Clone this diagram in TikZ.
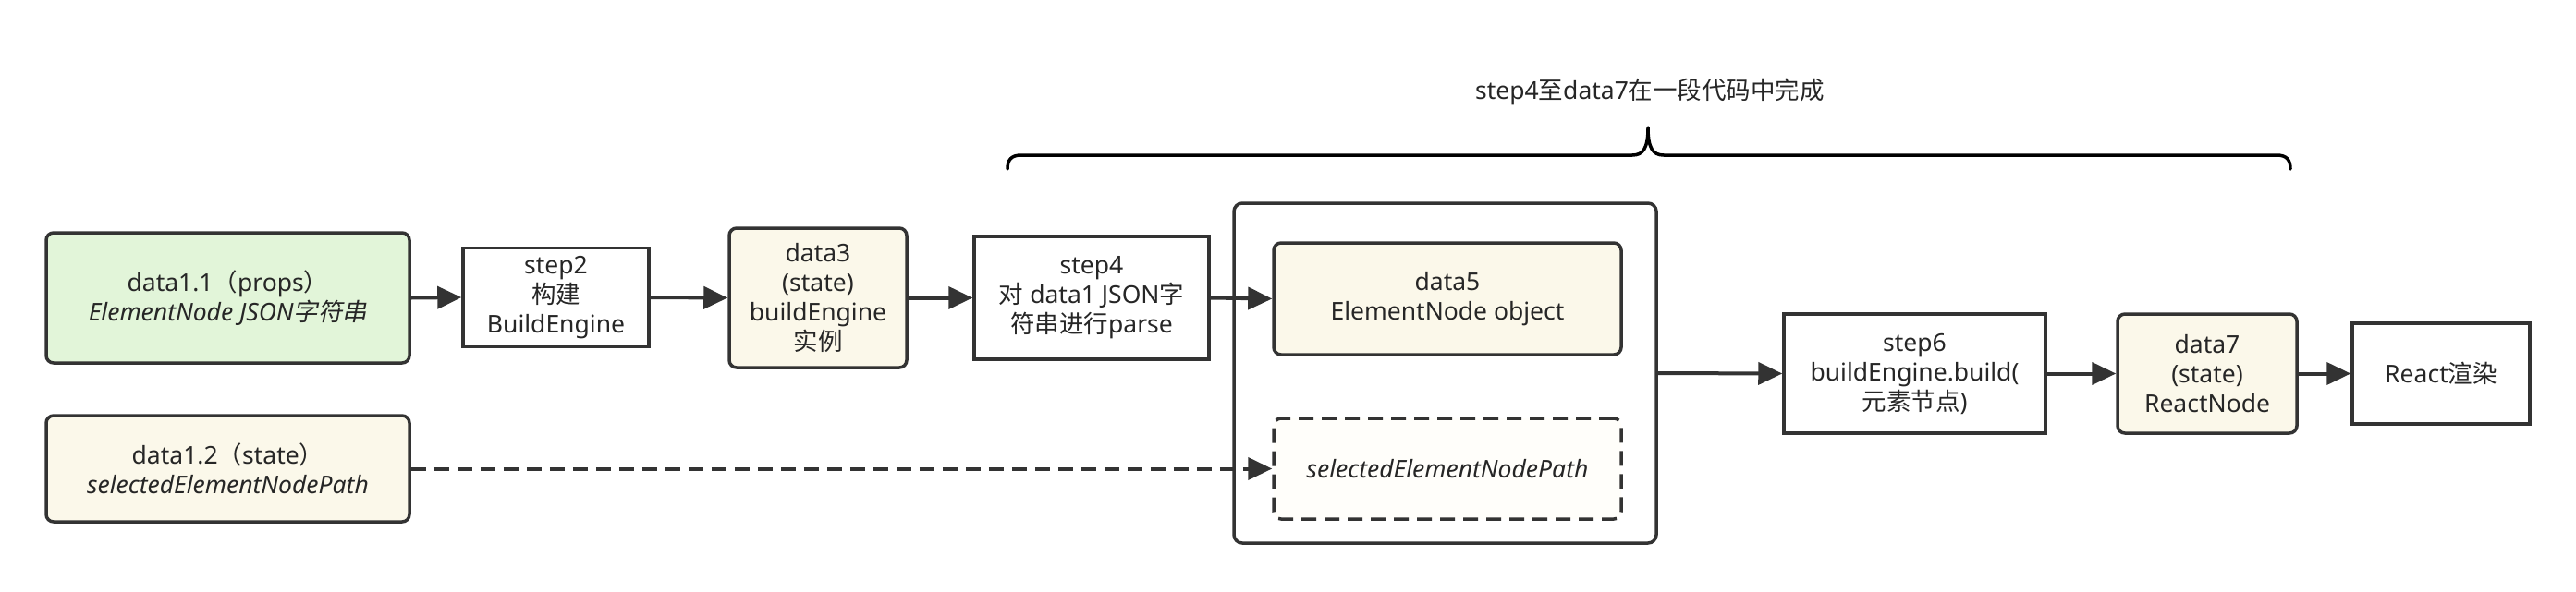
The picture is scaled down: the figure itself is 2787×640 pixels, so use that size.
\documentclass[tikz,border=0pt]{standalone}
\usepackage{fontspec}
\setmainfont{Noto Sans}
\newfontfamily\cjk{Noto Sans CJK SC}[AutoFakeSlant=0.2]
\newcommand{\zh}[1]{{\cjk #1}}
\usetikzlibrary{arrows.meta}
\definecolor{dark}{RGB}{51,51,51}
\definecolor{greenfill}{RGB}{226,245,217}
\definecolor{creamfill}{RGB}{251,248,234}
\definecolor{palefill}{RGB}{255,254,250}
\tikzset{
  base/.style={draw=dark, line width=3.5pt, inner sep=0pt, align=center, text=black!85,
    font=\fontsize{26.5}{32}\selectfont},
  databox/.style={base, rounded corners=8pt, fill=creamfill},
  greenbox/.style={base, rounded corners=8pt, fill=greenfill},
  stepbox/.style={base, fill=white},
  groupbox/.style={base, rounded corners=9pt, fill=white},
  dashbox/.style={base, rounded corners=8pt, fill=palefill, dash pattern=on 16pt off 9pt},
  conn/.style={draw=dark, line width=4pt, -{Triangle[length=26pt,width=24pt]}},
  dconn/.style={conn, dash pattern=on 16pt off 9pt},
  bracestyle/.style={draw=black, line width=3.5pt, line cap=round, line join=round},
}
\begin{document}
\begin{tikzpicture}[x=1pt, y=-1pt]
\useasboundingbox (0,0) rectangle (2787,640);
% container
\node[groupbox, minimum width=457pt, minimum height=368pt] (cont) at (1563.5,404) {};
\node[greenbox, minimum width=393pt, minimum height=141pt] (d11) at (246.5,322.5)
  {data1.1\zh{（}props\zh{）}\\\textit{ElementNode JSON\zh{字符串}}};
\node[databox, minimum width=393pt, minimum height=115pt] (d12) at (246.5,507.5)
  {data1.2\zh{（}state\zh{）}\\\textit{selectedElementNodePath}};
\node[stepbox, minimum width=201pt, minimum height=107pt] (s2) at (601.5,322)
  {step2\\\zh{构建}\\BuildEngine};
\node[databox, minimum width=192pt, minimum height=151pt] (d3) at (885,322.5)
  {data3\\(state)\\buildEngine\\\zh{实例}};
\node[stepbox, minimum width=254pt, minimum height=133pt] (s4) at (1181,322.5)
  {step4\\\zh{对} data1 JSON\zh{字}\\\zh{符串进行}parse};
\node[databox, minimum width=376pt, minimum height=121pt] (d5) at (1566,323.5)
  {data5\\ElementNode object};
\node[dashbox, minimum width=376pt, minimum height=109pt] (sel) at (1566,507.5)
  {\textit{selectedElementNodePath}};
\node[stepbox, minimum width=283pt, minimum height=129pt] (s6) at (2071.5,404.5)
  {step6\\buildEngine.build(\\\zh{元素节点})};
\node[databox, minimum width=194pt, minimum height=129pt] (d7) at (2388,404.5)
  {data7\\(state)\\ReactNode};
\node[stepbox, minimum width=192pt, minimum height=109pt] (r) at (2641,404.5)
  {React\zh{渲染}};
% connectors
\draw[conn] (d11.east) -- (s2.west);
\draw[conn] (s2.east) -- (d3.west);
\draw[conn] (d3.east) -- (s4.west);
\draw[conn] (s4.east) -- (d5.west);
\draw[dconn] (d12.east) -- (sel.west);
\draw[conn] (cont.east) -- (s6.west);
\draw[conn] (s6.east) -- (d7.west);
\draw[conn] (d7.east) -- (r.west);
% brace
\draw[bracestyle] (1090,183) .. controls (1090,173) and (1094,168) .. (1105,168)
  -- (1766,168) .. controls (1778,168) and (1783,160) .. (1783,138)
  .. controls (1783,160) and (1788,168) .. (1800,168)
  -- (2463,168) .. controls (2474,168) and (2478,173) .. (2478,183);
\node[font=\fontsize{26.5}{32}\selectfont, text=black!85] (lbl) at (1785,99) {step4\zh{至}data7\zh{在一段代码中完成}};
\end{tikzpicture}
\end{document}
